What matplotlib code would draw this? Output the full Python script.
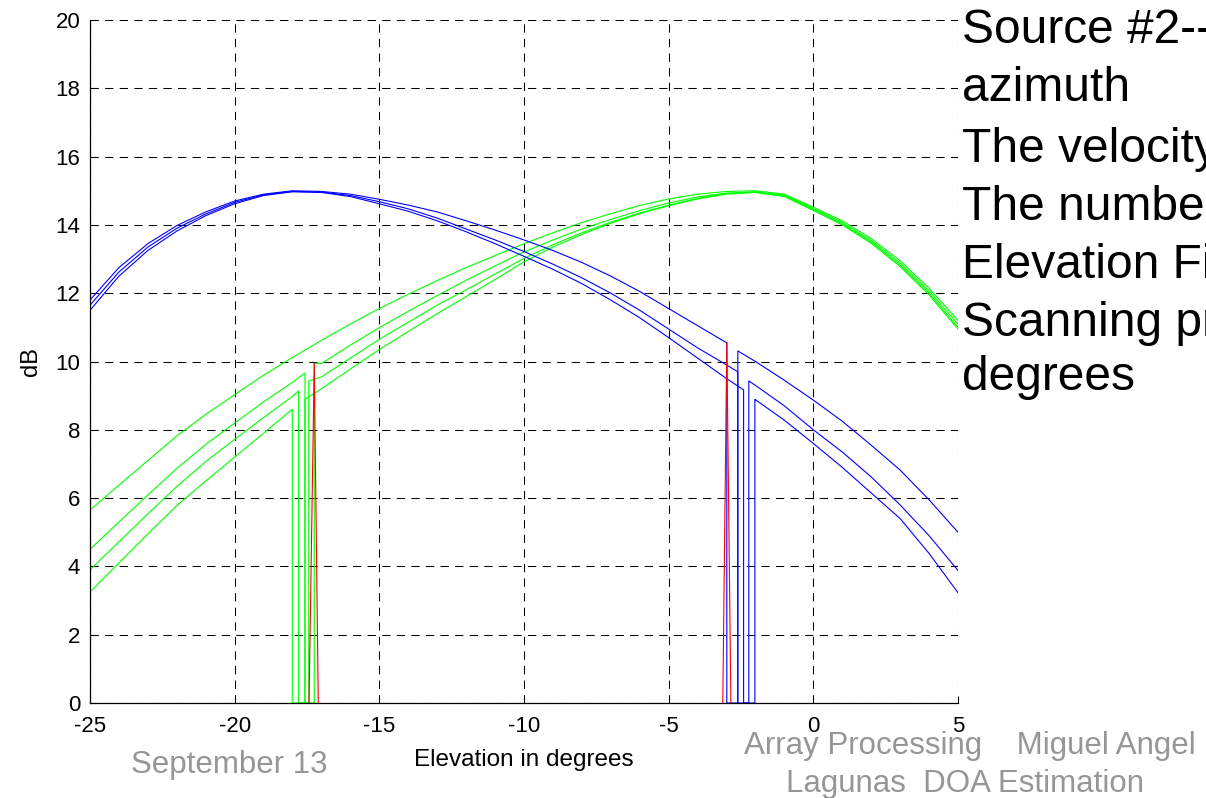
import matplotlib

matplotlib.use("Agg")
import matplotlib.pyplot as plt
import numpy as np

plt.rcParams["font.family"] = ["Liberation Sans", "DejaVu Sans"]
plt.rcParams["axes.unicode_minus"] = False

# elevation grid (degrees) the beam patterns are sampled on
ELEV = np.arange(-25, 6)

# source #1 patterns (green), dB
G1 = [5.65, 6.38, 7.10, 7.82, 8.45, 9.03, 9.60, 10.12, 10.62, 11.10, 11.55,
      11.97, 12.37, 12.75, 13.10, 13.45, 13.77, 14.07, 14.33, 14.57, 14.76,
      14.90, 14.98, 15.00, 14.90, 14.52, 14.12, 13.60, 12.95, 12.15, 11.20]
G2 = [4.50, 5.30, 6.09, 6.87, 7.57, 8.20, 8.82, 9.39, 9.94, 10.48, 10.99,
      11.47, 11.93, 12.38, 12.80, 13.21, 13.56, 13.88, 14.16, 14.42, 14.64,
      14.82, 14.93, 14.97, 14.87, 14.48, 14.07, 13.54, 12.88, 12.07, 11.10]
G3 = [3.90, 4.72, 5.54, 6.34, 7.07, 7.72, 8.36, 8.98, 9.55, 10.10, 10.65,
      11.15, 11.65, 12.10, 12.56, 13.02, 13.42, 13.77, 14.08, 14.35, 14.58,
      14.78, 14.92, 14.96, 14.85, 14.45, 14.03, 13.50, 12.82, 12.00, 11.00]
G4 = [3.25, 4.10, 4.95, 5.78, 6.50, 7.20, 7.90, 8.60, 9.20, 9.78, 10.35,
      10.88, 11.40, 11.90, 12.40, 12.92, 13.35, 13.72, 14.05, 14.33, 14.56,
      14.76, 14.90, 14.95, 14.83, 14.42, 14.00, 13.46, 12.78, 11.95, 10.95]

# source #2 patterns (blue), dB
B1 = [11.80, 12.75, 13.45, 13.98, 14.38, 14.70, 14.90, 15.00, 14.98, 14.90,
      14.75, 14.58, 14.38, 14.12, 13.85, 13.56, 13.25, 12.90, 12.50, 12.05,
      11.55, 11.05, 10.55, 10.00, 9.45, 8.87, 8.25, 7.55, 6.82, 5.95, 5.00]
B2 = [11.65, 12.62, 13.35, 13.90, 14.32, 14.66, 14.88, 14.98, 14.96, 14.86,
      14.68, 14.47, 14.20, 13.88, 13.56, 13.22, 12.85, 12.45, 12.00, 11.50,
      10.95, 10.40, 9.90, 9.30, 8.70, 8.00, 7.35, 6.62, 5.80, 4.90, 3.88]
B3 = [11.50, 12.50, 13.25, 13.82, 14.27, 14.62, 14.86, 14.97, 14.95, 14.83,
      14.62, 14.40, 14.12, 13.80, 13.45, 13.08, 12.70, 12.28, 11.80, 11.28,
      10.70, 10.10, 9.50, 8.88, 8.28, 7.60, 6.90, 6.15, 5.40, 4.38, 3.23]

# nulls cut into each pattern: (x_drop, y_drop, x_rise, y_rise)
G_NOTCH = [None,
           (-17.57, 9.66, -17.25, 9.95),
           (-17.79, 9.14, -17.44, 9.43),
           (-18.01, 8.60, -17.57, 8.89)]
B_NOTCH = [(-2.99, 10.55, -2.61, 10.31),
           (-2.61, 9.70, -2.23, 9.43),
           (-2.41, 9.17, -2.02, 8.89)]

# estimated DOA spikes (red)
SPIKE_X = [[-17.43, -17.25, -17.11], [-3.13, -2.99, -2.85]]
SPIKE_Y = [[0, 9.95, 0], [0, 10.55, 0]]

SLIDE_LINES = ["Source #2--", "azimuth", "The velocity", "The numbe",
               "Elevation Fi", "Scanning pr", "degrees"]
SLIDE_BASE = [43, 101, 162, 220, 278, 336, 390]


def with_notch(y, notch):
    x = ELEV.astype(float)
    y = np.asarray(y, dtype=float)
    if notch is None:
        return x, y
    xd, yd, xr, yr = notch
    left, right = x < xd, x > xr
    xs = np.concatenate([x[left], [xd, xd, xr, xr], x[right]])
    ys = np.concatenate([y[left], [yd, 0, 0, yr], y[right]])
    return xs, ys


fig = plt.figure(figsize=(12.06, 7.98), dpi=100)
ax = fig.add_axes([90 / 1206, 95 / 798, 868 / 1206, 683 / 798])

for y, n in zip([G1, G2, G3, G4], G_NOTCH):
    ax.plot(*with_notch(y, n), color="#00ff00", lw=0.8)
for y, n in zip([B1, B2, B3], B_NOTCH):
    ax.plot(*with_notch(y, n), color="#0000ff", lw=0.8)
for sx, sy in zip(SPIKE_X, SPIKE_Y):
    ax.plot(sx, sy, color="#ff0000", lw=0.8)

ax.set_xlim(-25, 5)
ax.set_ylim(0, 20)
ax.set_xticks(np.arange(-25, 6, 5))
ax.set_yticks(np.arange(0, 21, 2))
ax.grid(True, color="k", linestyle=(0, (8, 6)), linewidth=0.75)
for s in ("top", "right"):
    ax.spines[s].set_visible(False)
for s in ("left", "bottom"):
    ax.spines[s].set_linewidth(0.9)
ax.tick_params(direction="in", length=5, width=0.75, labelsize=16)
ax.tick_params(axis="x", pad=9)
ax.tick_params(axis="y", pad=7)
ax.set_xlabel("Elevation in degrees", fontsize=17.5, labelpad=9)
ax.set_ylabel("dB", fontsize=17, labelpad=10)

# slide text around the figure
for line, yb in zip(SLIDE_LINES, SLIDE_BASE):
    fig.text(962 / 1206, 1 - yb / 798, line, fontsize=34.5, va="baseline",
             ha="left", color="black")

gray = "#969696"
fig.text(229 / 1206, 1 - 773 / 798, "September 13", fontsize=22.5,
         color=gray, ha="center", va="baseline")
fig.text(970 / 1206, 1 - 754 / 798, "Array Processing    Miguel Angel",
         fontsize=22.5, color=gray, ha="center", va="baseline")
fig.text(965 / 1206, 1 - 792 / 798, "Lagunas  DOA Estimation",
         fontsize=22.5, color=gray, ha="center", va="baseline")

fig.savefig("out.png", dpi=100)
